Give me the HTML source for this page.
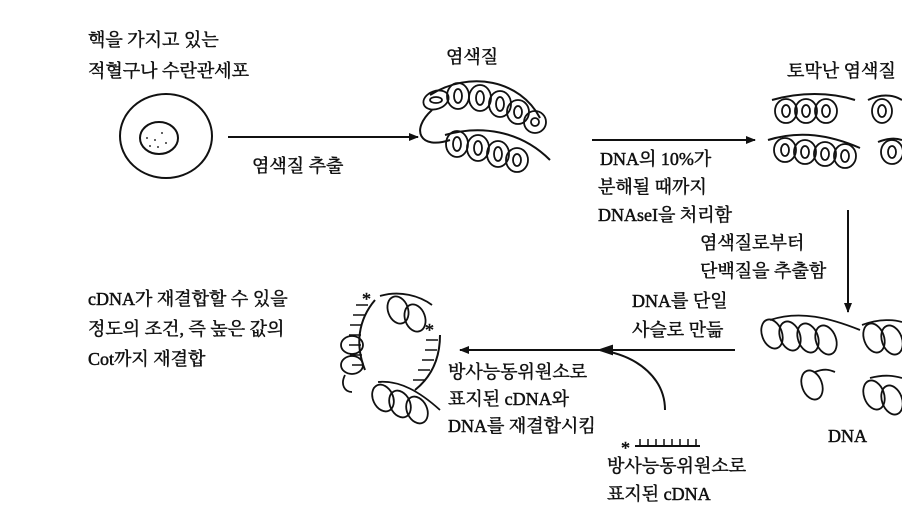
<!DOCTYPE html>
<html><head><meta charset="utf-8"><style>
html,body{margin:0;padding:0;background:#fff}
svg{display:block}
text{font-family:"Liberation Serif","Noto Serif CJK SC","Noto Sans CJK KR",serif;font-size:18px;fill:#111;stroke:#111;stroke-width:0.5}
</style></head><body>
<svg width="902" height="522" viewBox="0 0 902 522" xmlns="http://www.w3.org/2000/svg">
<defs><marker id="ah" markerWidth="10" markerHeight="8" refX="9" refY="4" orient="auto" markerUnits="userSpaceOnUse"><path d="M0,0 L10,4 L0,8 z" fill="#111"/></marker></defs>
<g fill="none" stroke="#111" stroke-width="2">
<!-- cell -->
<ellipse cx="166" cy="136" rx="46" ry="42"/>
<ellipse cx="159" cy="138" rx="19" ry="16"/>
<g fill="#333" stroke="none"><circle cx="155" cy="140" r="1"/><circle cx="162" cy="133" r="1"/><circle cx="150" cy="146" r="1"/><circle cx="166" cy="143" r="1"/><circle cx="158" cy="147" r="1"/><circle cx="147" cy="138" r="1"/></g>
<line x1="228" y1="137" x2="418" y2="137" marker-end="url(#ah)"/>
<!-- chromatin -->
<path d="M432,110 C410,130 420,150 450,140 M430,95 C470,70 520,80 540,118 M445,135 C480,125 520,130 550,160"/>
<g stroke-width="1.8">
<ellipse cx="436" cy="100" rx="13" ry="9" transform="rotate(-20 436 100)"/><ellipse cx="436" cy="100" rx="6" ry="3"/>
<ellipse cx="458" cy="96" rx="11" ry="13"/><ellipse cx="458" cy="96" rx="4" ry="7"/>
<ellipse cx="480" cy="98" rx="11" ry="13"/><ellipse cx="480" cy="98" rx="4" ry="7"/>
<ellipse cx="500" cy="104" rx="11" ry="13"/><ellipse cx="500" cy="104" rx="4" ry="7"/>
<ellipse cx="518" cy="112" rx="11" ry="12"/><ellipse cx="518" cy="112" rx="4" ry="6"/>
<ellipse cx="535" cy="122" rx="11" ry="11"/><ellipse cx="535" cy="122" rx="4" ry="4"/>
<ellipse cx="457" cy="144" rx="11" ry="13"/><ellipse cx="457" cy="144" rx="4" ry="7"/>
<ellipse cx="478" cy="148" rx="11" ry="13"/><ellipse cx="478" cy="148" rx="4" ry="7"/>
<ellipse cx="498" cy="154" rx="11" ry="13"/><ellipse cx="498" cy="154" rx="4" ry="7"/>
<ellipse cx="517" cy="160" rx="11" ry="12"/><ellipse cx="517" cy="160" rx="4" ry="6"/>
</g>
<line x1="592" y1="140" x2="755" y2="140" marker-end="url(#ah)"/>
<!-- truncated chromatin -->
<path d="M772,100 C800,92 830,92 855,100 M868,100 C880,94 892,94 902,100 M768,140 C800,130 830,135 860,148 M878,142 C888,138 896,138 902,140"/>
<g stroke-width="1.8">
<ellipse cx="786" cy="111" rx="11" ry="12"/><ellipse cx="786" cy="111" rx="4" ry="6"/>
<ellipse cx="806" cy="111" rx="11" ry="12"/><ellipse cx="806" cy="111" rx="4" ry="6"/>
<ellipse cx="826" cy="111" rx="11" ry="12"/><ellipse cx="826" cy="111" rx="4" ry="6"/>
<ellipse cx="882" cy="111" rx="10" ry="12"/><ellipse cx="882" cy="111" rx="4" ry="6"/>
<ellipse cx="785" cy="150" rx="11" ry="12"/><ellipse cx="785" cy="150" rx="4" ry="6"/>
<ellipse cx="805" cy="152" rx="11" ry="12"/><ellipse cx="805" cy="152" rx="4" ry="6"/>
<ellipse cx="825" cy="154" rx="11" ry="12"/><ellipse cx="825" cy="154" rx="4" ry="6"/>
<ellipse cx="845" cy="156" rx="11" ry="12"/><ellipse cx="845" cy="156" rx="4" ry="6"/>
<ellipse cx="892" cy="152" rx="11" ry="12"/><ellipse cx="892" cy="152" rx="4" ry="6"/>
</g>
<line x1="848" y1="210" x2="848" y2="312" marker-end="url(#ah)"/>
<!-- DNA coils right -->
<g stroke-width="1.8">
<path d="M770,320 C800,310 830,318 860,330 M862,325 C880,318 895,320 902,322"/>
<ellipse cx="772" cy="334" rx="10" ry="15" transform="rotate(-20 772 334)"/>
<ellipse cx="790" cy="336" rx="10" ry="15" transform="rotate(-20 790 336)"/>
<ellipse cx="808" cy="338" rx="10" ry="15" transform="rotate(-20 808 338)"/>
<ellipse cx="826" cy="340" rx="10" ry="15" transform="rotate(-20 826 340)"/>
<ellipse cx="874" cy="338" rx="10" ry="15" transform="rotate(-20 874 338)"/>
<ellipse cx="892" cy="340" rx="10" ry="15" transform="rotate(-20 892 340)"/>
<path d="M815,372 C825,368 830,370 835,372"/>
<ellipse cx="812" cy="385" rx="10" ry="15" transform="rotate(-20 812 385)"/>
<path d="M870,378 C885,374 895,376 902,378"/>
<ellipse cx="874" cy="395" rx="10" ry="15" transform="rotate(-20 874 395)"/>
<ellipse cx="892" cy="400" rx="10" ry="15" transform="rotate(-20 892 400)"/>
</g>
<!-- arrows bottom -->
<line x1="735" y1="350" x2="460" y2="350" marker-end="url(#ah)"/>
<path d="M665,410 C665,380 640,356 600,350" />
<path d="M612,346 L600,350 L612,354 z" fill="#111"/>
<!-- ladder -->
<line x1="635" y1="446" x2="700" y2="446"/>
<path d="M640,446v-7M648,446v-7M656,446v-7M664,446v-7M672,446v-7M680,446v-7M688,446v-7M696,446v-7" stroke-width="1.5"/>
<!-- left hybrid coils -->
<path d="M375,300 C358,320 355,345 365,370" />
<path d="M368,305h-12M365,315h-12M362,325h-12M361,335h-12M361,345h-12M362,355h-12M364,365h-12" stroke-width="1.5"/>
<g stroke-width="1.8">
<path d="M380,296 C400,290 420,296 432,305"/>
<ellipse cx="398" cy="310" rx="10" ry="14" transform="rotate(-20 398 310)"/>
<ellipse cx="415" cy="318" rx="10" ry="14" transform="rotate(-20 415 318)"/>
<ellipse cx="352" cy="345" rx="11" ry="9"/>
<ellipse cx="352" cy="365" rx="11" ry="9"/>
<path d="M345,375 C340,385 345,392 352,392"/>
<path d="M378,382 C400,380 420,392 440,410"/>
<ellipse cx="383" cy="398" rx="10" ry="14" transform="rotate(-25 383 398)"/>
<ellipse cx="400" cy="404" rx="10" ry="14" transform="rotate(-25 400 404)"/>
<ellipse cx="417" cy="410" rx="10" ry="14" transform="rotate(-25 417 410)"/>
</g>
<path d="M440,335 C440,360 430,378 415,390"/>
<path d="M438,340h-12M437,350h-12M434,360h-12M430,370h-12M425,380h-12" stroke-width="1.5"/>
</g>
<g font-size="22" fill="#111" font-family="Liberation Serif,serif">
<text x="362" y="305">*</text><text x="425" y="336">*</text><text x="621" y="454">*</text>
</g>
<text x="88" y="46">핵을 가지고 있는</text>
<text x="88" y="77">적혈구나 수란관세포</text>
<text x="252" y="172">염색질 추출</text>
<text x="446" y="63">염색질</text>
<text x="600" y="165">DNA의 10%가</text>
<text x="598" y="193">분해될 때까지</text>
<text x="598" y="221">DNAseI을 처리함</text>
<text x="787" y="77">토막난 염색질</text>
<text x="700" y="249">염색질로부터</text>
<text x="700" y="277">단백질을 추출함</text>
<text x="632" y="307">DNA를 단일</text>
<text x="632" y="336">사슬로 만듦</text>
<text x="448" y="378">방사능동위원소로</text>
<text x="448" y="405">표지된 cDNA와</text>
<text x="448" y="432">DNA를 재결합시킴</text>
<text x="607" y="472">방사능동위원소로</text>
<text x="607" y="500">표지된 cDNA</text>
<text x="828" y="442">DNA</text>
<text x="88" y="305">cDNA가 재결합할 수 있을</text>
<text x="88" y="335">정도의 조건, 즉 높은 값의</text>
<text x="88" y="365">Cot까지 재결합</text>
</svg>
</body></html>
